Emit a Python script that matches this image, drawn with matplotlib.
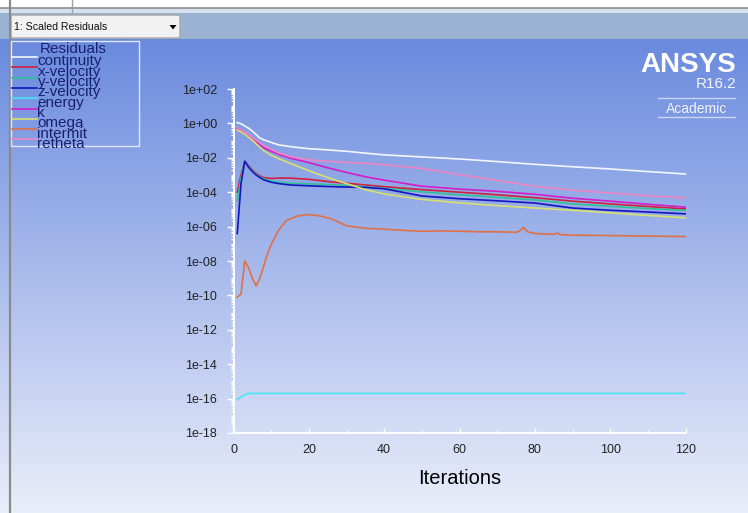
import matplotlib
matplotlib.use("Agg")
import matplotlib.pyplot as plt
import numpy as np
from matplotlib.patches import Rectangle, FancyBboxPatch, Polygon
from matplotlib.ticker import FixedLocator, LogLocator, NullFormatter, MultipleLocator

plt.rcParams['font.family'] = ['Liberation Sans', 'DejaVu Sans']

# residuals (log10 of the scaled residual)
iters = [1, 2, 3, 4, 5, 6, 7, 8, 10, 12, 15, 20, 25, 30, 35, 40, 50, 60, 70, 80, 90, 100, 110, 120]

log_continuity = [0.05, -0.02, -0.15, -0.28, -0.45, -0.65, -0.85, -0.95, -1.1, -1.25, -1.35, -1.47,
                  -1.54, -1.62, -1.73, -1.83, -1.95, -2.07, -2.22, -2.38, -2.52, -2.65, -2.80, -2.94]
log_xvel = [-4.0, -3.0, -2.2, -2.45, -2.7, -2.9, -3.05, -3.15, -3.2, -3.18, -3.18, -3.25,
            -3.38, -3.48, -3.58, -3.68, -3.85, -4.0, -4.15, -4.32, -4.52, -4.68, -4.83, -4.97]
log_yvel = [-4.5, -3.2, -2.2, -2.5, -2.75, -2.95, -3.12, -3.22, -3.35, -3.42, -3.48, -3.52,
            -3.55, -3.6, -3.68, -3.78, -3.98, -4.15, -4.3, -4.45, -4.68, -4.82, -4.95, -5.06]
log_zvel = [-6.4, -3.5, -2.2, -2.55, -2.8, -3.0, -3.15, -3.28, -3.42, -3.5, -3.58, -3.63,
            -3.67, -3.7, -3.72, -3.8, -4.22, -4.38, -4.5, -4.63, -4.92, -5.05, -5.15, -5.26]
log_energy = [-16.05, -15.9, -15.78, -15.7, -15.7, -15.7, -15.7, -15.7, -15.7, -15.7, -15.7, -15.7,
              -15.7, -15.7, -15.7, -15.7, -15.7, -15.7, -15.7, -15.7, -15.7, -15.7, -15.7, -15.7]
log_k = [-0.3, -0.42, -0.55, -0.70, -0.88, -1.05, -1.25, -1.42, -1.62, -1.80, -2.02, -2.28,
         -2.58, -2.85, -3.1, -3.3, -3.65, -3.82, -3.95, -4.12, -4.35, -4.52, -4.7, -4.87]
log_omega = [-0.38, -0.5, -0.63, -0.80, -0.98, -1.18, -1.38, -1.58, -1.85, -2.05, -2.32, -2.75,
             -3.15, -3.5, -3.85, -4.1, -4.42, -4.62, -4.78, -4.92, -5.05, -5.2, -5.35, -5.49]
log_retheta = [-0.25, -0.38, -0.52, -0.65, -0.82, -0.98, -1.12, -1.28, -1.50, -1.72, -1.93, -2.12,
               -2.2, -2.27, -2.33, -2.40, -2.62, -2.98, -3.32, -3.66, -3.88, -4.05, -4.2, -4.33]

iters_intermit = [1, 2, 3, 4, 5, 6, 7, 8, 9, 10, 12, 14, 17, 20, 23, 26, 30, 35, 40, 45, 50, 55,
                  60, 65, 70, 75, 76, 77, 78, 80, 85, 86, 87, 90, 100, 110, 120]
log_intermit = [-10.1, -9.92, -8.0, -8.4, -9.0, -9.45, -9.0, -8.3, -7.6, -7.05, -6.2, -5.65, -5.38,
                -5.3, -5.38, -5.55, -5.95, -6.1, -6.15, -6.22, -6.27, -6.25, -6.27, -6.3, -6.3,
                -6.33, -6.25, -6.05, -6.3, -6.4, -6.45, -6.38, -6.47, -6.5, -6.52, -6.55, -6.58]

names = ['continuity', 'x-velocity', 'y-velocity', 'z-velocity', 'energy', 'k', 'omega', 'intermit', 'retheta']
colors = ['#f4f6ff', '#d0203c', '#30c098', '#1414c0', '#48e4f0', '#d41cc8', '#d8e070', '#e07048', '#ee84c4']

W, H = 748, 513
fig = plt.figure(figsize=(W / 100, H / 100), dpi=100)

# window background in pixel coordinates
bg = fig.add_axes([0, 0, 1, 1])
bg.set_xlim(0, W)
bg.set_ylim(H, 0)
bg.axis('off')
top_c = np.array([106, 138, 222]) / 255
bot_c = np.array([234, 238, 250]) / 255
t = np.linspace(0, 1, 256)[:, None, None]
grad = top_c * (1 - t) + bot_c * t
bg.imshow(grad, extent=(0, W, H, 39), aspect='auto', interpolation='bilinear', zorder=0)
bg.add_patch(Rectangle((0, 0), W, 8, facecolor='white', edgecolor='none', zorder=1))
bg.plot([0, W], [7.5, 7.5], color='#8c8c8c', lw=1.2, zorder=2)
bg.add_patch(Rectangle((0, 8), W, 5, facecolor='#d6e0ee', edgecolor='none', zorder=1))
bg.add_patch(Rectangle((0, 13), W, 26, facecolor='#9ab3d3', edgecolor='none', zorder=1))
bg.plot([72, 72], [0, 13], color='#a0a0a0', lw=1, zorder=2)
bg.plot([10, 10], [0, H], color='#8a8a8a', lw=1.6, zorder=3)

# dropdown
bg.add_patch(FancyBboxPatch((11, 15), 169, 23, boxstyle='round,pad=0,rounding_size=2',
                            facecolor='#f2f2f2', edgecolor='#a6a6a6', lw=1, zorder=2))
bg.text(14, 27, '1: Scaled Residuals', fontsize=7.6, color='#111111', va='center', ha='left', zorder=3)
bg.add_patch(Polygon([[169.5, 25], [176.5, 25], [173, 29.5]], closed=True, facecolor='black', zorder=3))

# legend box
bg.add_patch(Rectangle((11, 41), 128, 105, facecolor='none', edgecolor='#dfe6f8', lw=1, zorder=3))
bg.text(40, 53, 'Residuals', fontsize=11, color='#1a2070', va='baseline', ha='left', zorder=4)
for i, (nm, c) in enumerate(zip(names, colors)):
    yy = 57 + i * 10.3
    bg.plot([12, 37], [yy, yy], color=c, lw=1.2, zorder=4)
    bg.text(37.5, yy + 8.5, nm, fontsize=11, color='#1a2070', va='baseline', ha='left', zorder=4)

# ANSYS logo
bg.text(736, 72, 'ANSYS', fontsize=20, fontweight='bold', color='white', ha='right', va='baseline',
        family=['Liberation Sans Narrow', 'Liberation Sans'], zorder=4)
bg.text(736, 88, 'R16.2', fontsize=11, color='#f4f6ff', ha='right', va='baseline', zorder=4)
bg.plot([658, 735], [98, 98], color='white', lw=1, alpha=0.6, zorder=4)
bg.text(697, 113, 'Academic', fontsize=10, color='#eef2ff', ha='center', va='baseline', zorder=4)
bg.plot([658, 735], [117, 117], color='white', lw=1, alpha=0.6, zorder=4)

# residual plot
ax = fig.add_axes([233.5 / W, (H - 433) / H, 452 / W, 344 / H])
ax.patch.set_alpha(0)
ax.plot(iters, 10 ** np.array(log_continuity), color=colors[0], lw=1.2)
ax.plot(iters, 10 ** np.array(log_xvel), color=colors[1], lw=1.2)
ax.plot(iters, 10 ** np.array(log_yvel), color=colors[2], lw=1.2)
ax.plot(iters, 10 ** np.array(log_zvel), color=colors[3], lw=1.2)
ax.plot(iters, 10 ** np.array(log_energy), color=colors[4], lw=1.2)
ax.plot(iters, 10 ** np.array(log_k), color=colors[5], lw=1.2)
ax.plot(iters, 10 ** np.array(log_omega), color=colors[6], lw=1.2)
ax.plot(iters_intermit, 10 ** np.array(log_intermit), color=colors[7], lw=1.2)
ax.plot(iters, 10 ** np.array(log_retheta), color=colors[8], lw=1.2)

ax.set_yscale('log')
ax.set_xlim(0, 120)
ax.set_ylim(1e-18, 1e2)
for s in ['top', 'right']:
    ax.spines[s].set_visible(False)
for s in ['left', 'bottom']:
    ax.spines[s].set_color('white')
    ax.spines[s].set_linewidth(1.4)

ymaj = 10.0 ** np.arange(-18, 3, 2)
ax.yaxis.set_major_locator(FixedLocator(ymaj))
ax.set_yticklabels([f"{v:.0e}" for v in ymaj])
ax.yaxis.set_minor_locator(LogLocator(base=10, subs=np.arange(1, 10), numticks=100))
ax.yaxis.set_minor_formatter(NullFormatter())
ax.xaxis.set_major_locator(MultipleLocator(20))
ax.xaxis.set_minor_locator(MultipleLocator(10))

ax.tick_params(axis='y', which='major', direction='out', length=5, width=1, color='white',
               pad=7, labelsize=9, labelcolor='#222222')
ax.tick_params(axis='y', which='minor', direction='out', length=2.5, width=0.8, color='white')
ax.tick_params(axis='x', which='major', direction='in', length=3.5, width=1, color='white',
               pad=8, labelsize=9, labelcolor='#222222')
ax.tick_params(axis='x', which='minor', direction='in', length=2, width=0.8, color='white')

ax.set_xlabel('Iterations', fontsize=14.5, color='black')
ax.xaxis.set_label_coords(0.5, -0.104)

fig.savefig('out.png', dpi=100)
